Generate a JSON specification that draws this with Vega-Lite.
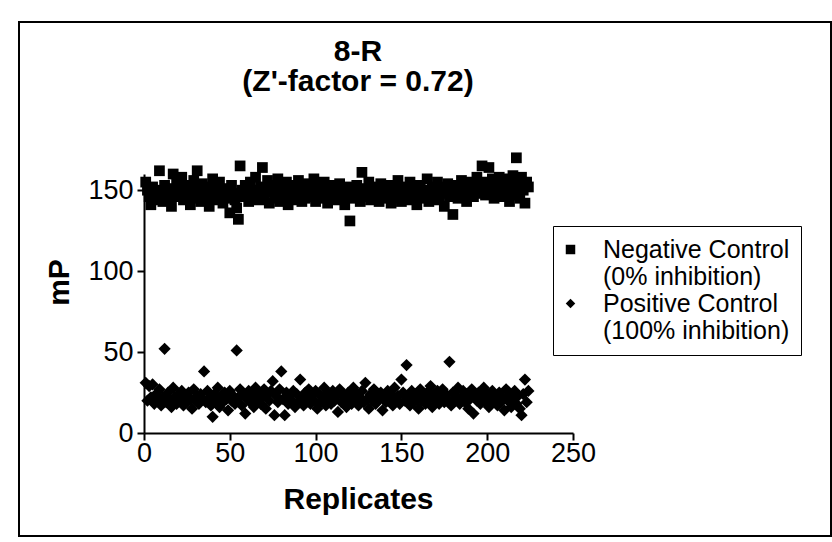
{
  "$schema": "https://vega.github.io/schema/vega-lite/v6.json",
  "width": 812,
  "height": 514,
  "autosize": {"type": "none"},
  "padding": {"left": 19, "top": 22, "right": 1, "bottom": 6},
  "background": "white",
  "config": {
    "view": {"stroke": "black", "strokeWidth": 2},
    "font": "Liberation Sans"
  },
  "title": {
    "text": ["8-R", "(Z'-factor = 0.72)"],
    "font": "Liberation Sans",
    "fontSize": 30,
    "fontWeight": "bold",
    "color": "black",
    "anchor": "middle",
    "frame": "group",
    "baseline": "bottom",
    "lineHeight": 30,
    "dx": -67,
    "offset": -105
  },
  "datasets": {
    "neg": [
      {"rep":1,"mP":155},{"rep":2,"mP":150},{"rep":3,"mP":146},{"rep":4,"mP":141},{"rep":5,"mP":152},{"rep":6,"mP":148},{"rep":7,"mP":144},{"rep":8,"mP":150},{"rep":9,"mP":162},{"rep":10,"mP":147},
      {"rep":11,"mP":143},{"rep":12,"mP":153},{"rep":13,"mP":149},{"rep":14,"mP":145},{"rep":15,"mP":151},{"rep":16,"mP":140},{"rep":17,"mP":160},{"rep":18,"mP":148},{"rep":19,"mP":155},{"rep":20,"mP":146},
      {"rep":21,"mP":152},{"rep":22,"mP":158},{"rep":23,"mP":144},{"rep":24,"mP":149},{"rep":25,"mP":153},{"rep":26,"mP":147},{"rep":27,"mP":141},{"rep":28,"mP":150},{"rep":29,"mP":156},{"rep":30,"mP":145},
      {"rep":31,"mP":162},{"rep":32,"mP":149},{"rep":33,"mP":143},{"rep":34,"mP":154},{"rep":35,"mP":148},{"rep":36,"mP":151},{"rep":37,"mP":146},{"rep":38,"mP":140},{"rep":39,"mP":152},{"rep":40,"mP":157},
      {"rep":41,"mP":148},{"rep":42,"mP":144},{"rep":43,"mP":150},{"rep":44,"mP":155},{"rep":45,"mP":146},{"rep":46,"mP":142},{"rep":47,"mP":151},{"rep":48,"mP":149},{"rep":49,"mP":145},{"rep":50,"mP":136},
      {"rep":51,"mP":153},{"rep":52,"mP":148},{"rep":53,"mP":144},{"rep":54,"mP":139},{"rep":55,"mP":132},{"rep":56,"mP":165},{"rep":57,"mP":150},{"rep":58,"mP":146},{"rep":59,"mP":153},{"rep":60,"mP":148},
      {"rep":61,"mP":143},{"rep":62,"mP":155},{"rep":63,"mP":150},{"rep":64,"mP":145},{"rep":65,"mP":158},{"rep":66,"mP":149},{"rep":67,"mP":144},{"rep":68,"mP":152},{"rep":69,"mP":164},{"rep":70,"mP":147},
      {"rep":71,"mP":151},{"rep":72,"mP":156},{"rep":73,"mP":142},{"rep":74,"mP":149},{"rep":75,"mP":153},{"rep":76,"mP":145},{"rep":77,"mP":150},{"rep":78,"mP":157},{"rep":79,"mP":143},{"rep":80,"mP":148},
      {"rep":81,"mP":152},{"rep":82,"mP":146},{"rep":83,"mP":155},{"rep":84,"mP":141},{"rep":85,"mP":149},{"rep":86,"mP":153},{"rep":87,"mP":147},{"rep":88,"mP":144},{"rep":89,"mP":151},{"rep":90,"mP":156},
      {"rep":91,"mP":148},{"rep":92,"mP":143},{"rep":93,"mP":150},{"rep":94,"mP":145},{"rep":95,"mP":154},{"rep":96,"mP":149},{"rep":97,"mP":146},{"rep":98,"mP":152},{"rep":99,"mP":157},{"rep":100,"mP":143},
      {"rep":101,"mP":148},{"rep":102,"mP":151},{"rep":103,"mP":145},{"rep":104,"mP":150},{"rep":105,"mP":155},{"rep":106,"mP":147},{"rep":107,"mP":142},{"rep":108,"mP":149},{"rep":109,"mP":153},{"rep":110,"mP":146},
      {"rep":111,"mP":151},{"rep":112,"mP":144},{"rep":113,"mP":148},{"rep":114,"mP":154},{"rep":115,"mP":150},{"rep":116,"mP":145},{"rep":117,"mP":141},{"rep":118,"mP":149},{"rep":119,"mP":152},{"rep":120,"mP":131},
      {"rep":121,"mP":147},{"rep":122,"mP":150},{"rep":123,"mP":145},{"rep":124,"mP":153},{"rep":125,"mP":148},{"rep":126,"mP":143},{"rep":127,"mP":161},{"rep":128,"mP":149},{"rep":129,"mP":146},{"rep":130,"mP":151},
      {"rep":131,"mP":155},{"rep":132,"mP":144},{"rep":133,"mP":148},{"rep":134,"mP":152},{"rep":135,"mP":146},{"rep":136,"mP":150},{"rep":137,"mP":143},{"rep":138,"mP":154},{"rep":139,"mP":149},{"rep":140,"mP":145},
      {"rep":141,"mP":151},{"rep":142,"mP":147},{"rep":143,"mP":153},{"rep":144,"mP":142},{"rep":145,"mP":148},{"rep":146,"mP":150},{"rep":147,"mP":145},{"rep":148,"mP":156},{"rep":149,"mP":149},{"rep":150,"mP":143},
      {"rep":151,"mP":152},{"rep":152,"mP":147},{"rep":153,"mP":150},{"rep":154,"mP":144},{"rep":155,"mP":155},{"rep":156,"mP":148},{"rep":157,"mP":146},{"rep":158,"mP":151},{"rep":159,"mP":141},{"rep":160,"mP":149},
      {"rep":161,"mP":153},{"rep":162,"mP":145},{"rep":163,"mP":150},{"rep":164,"mP":147},{"rep":165,"mP":157},{"rep":166,"mP":143},{"rep":167,"mP":149},{"rep":168,"mP":152},{"rep":169,"mP":146},{"rep":170,"mP":150},
      {"rep":171,"mP":155},{"rep":172,"mP":144},{"rep":173,"mP":148},{"rep":174,"mP":152},{"rep":175,"mP":140},{"rep":176,"mP":149},{"rep":177,"mP":154},{"rep":178,"mP":146},{"rep":179,"mP":151},{"rep":180,"mP":135},
      {"rep":181,"mP":148},{"rep":182,"mP":153},{"rep":183,"mP":145},{"rep":184,"mP":150},{"rep":185,"mP":156},{"rep":186,"mP":147},{"rep":187,"mP":152},{"rep":188,"mP":143},{"rep":189,"mP":149},{"rep":190,"mP":155},
      {"rep":191,"mP":151},{"rep":192,"mP":146},{"rep":193,"mP":153},{"rep":194,"mP":158},{"rep":195,"mP":148},{"rep":196,"mP":150},{"rep":197,"mP":165},{"rep":198,"mP":152},{"rep":199,"mP":147},{"rep":200,"mP":155},
      {"rep":201,"mP":164},{"rep":202,"mP":150},{"rep":203,"mP":157},{"rep":204,"mP":145},{"rep":205,"mP":153},{"rep":206,"mP":149},{"rep":207,"mP":158},{"rep":208,"mP":146},{"rep":209,"mP":152},{"rep":210,"mP":155},
      {"rep":211,"mP":148},{"rep":212,"mP":157},{"rep":213,"mP":143},{"rep":214,"mP":151},{"rep":215,"mP":159},{"rep":216,"mP":147},{"rep":217,"mP":170},{"rep":218,"mP":153},{"rep":219,"mP":145},{"rep":220,"mP":158},
      {"rep":221,"mP":150},{"rep":222,"mP":142},{"rep":223,"mP":155},{"rep":224,"mP":152}
    ],
    "pos": [
      {"rep":1,"mP":31},{"rep":2,"mP":20},{"rep":3,"mP":29},{"rep":4,"mP":22},{"rep":5,"mP":30},{"rep":6,"mP":18},{"rep":7,"mP":24},{"rep":8,"mP":20},{"rep":9,"mP":27},{"rep":10,"mP":17},
      {"rep":11,"mP":22},{"rep":12,"mP":52},{"rep":13,"mP":19},{"rep":14,"mP":25},{"rep":15,"mP":21},{"rep":16,"mP":16},{"rep":17,"mP":28},{"rep":18,"mP":22},{"rep":19,"mP":18},{"rep":20,"mP":24},
      {"rep":21,"mP":20},{"rep":22,"mP":26},{"rep":23,"mP":17},{"rep":24,"mP":23},{"rep":25,"mP":19},{"rep":26,"mP":25},{"rep":27,"mP":21},{"rep":28,"mP":15},{"rep":29,"mP":27},{"rep":30,"mP":20},
      {"rep":31,"mP":23},{"rep":32,"mP":18},{"rep":33,"mP":24},{"rep":34,"mP":21},{"rep":35,"mP":38},{"rep":36,"mP":19},{"rep":37,"mP":26},{"rep":38,"mP":22},{"rep":39,"mP":17},{"rep":40,"mP":10},
      {"rep":41,"mP":24},{"rep":42,"mP":20},{"rep":43,"mP":28},{"rep":44,"mP":16},{"rep":45,"mP":23},{"rep":46,"mP":19},{"rep":47,"mP":25},{"rep":48,"mP":21},{"rep":49,"mP":14},{"rep":50,"mP":26},
      {"rep":51,"mP":20},{"rep":52,"mP":23},{"rep":53,"mP":18},{"rep":54,"mP":51},{"rep":55,"mP":22},{"rep":56,"mP":27},{"rep":57,"mP":17},{"rep":58,"mP":24},{"rep":59,"mP":12},{"rep":60,"mP":21},
      {"rep":61,"mP":26},{"rep":62,"mP":19},{"rep":63,"mP":23},{"rep":64,"mP":16},{"rep":65,"mP":28},{"rep":66,"mP":20},{"rep":67,"mP":25},{"rep":68,"mP":18},{"rep":69,"mP":22},{"rep":70,"mP":27},
      {"rep":71,"mP":15},{"rep":72,"mP":24},{"rep":73,"mP":20},{"rep":74,"mP":26},{"rep":75,"mP":32},{"rep":76,"mP":11},{"rep":77,"mP":23},{"rep":78,"mP":19},{"rep":79,"mP":27},{"rep":80,"mP":38},
      {"rep":81,"mP":21},{"rep":82,"mP":11},{"rep":83,"mP":25},{"rep":84,"mP":18},{"rep":85,"mP":23},{"rep":86,"mP":20},{"rep":87,"mP":26},{"rep":88,"mP":16},{"rep":89,"mP":24},{"rep":90,"mP":19},
      {"rep":91,"mP":33},{"rep":92,"mP":22},{"rep":93,"mP":17},{"rep":94,"mP":25},{"rep":95,"mP":21},{"rep":96,"mP":27},{"rep":97,"mP":18},{"rep":98,"mP":23},{"rep":99,"mP":20},{"rep":100,"mP":26},
      {"rep":101,"mP":15},{"rep":102,"mP":24},{"rep":103,"mP":19},{"rep":104,"mP":22},{"rep":105,"mP":28},{"rep":106,"mP":17},{"rep":107,"mP":25},{"rep":108,"mP":21},{"rep":109,"mP":18},{"rep":110,"mP":26},
      {"rep":111,"mP":20},{"rep":112,"mP":23},{"rep":113,"mP":13},{"rep":114,"mP":27},{"rep":115,"mP":19},{"rep":116,"mP":24},{"rep":117,"mP":21},{"rep":118,"mP":16},{"rep":119,"mP":25},{"rep":120,"mP":22},
      {"rep":121,"mP":18},{"rep":122,"mP":28},{"rep":123,"mP":20},{"rep":124,"mP":24},{"rep":125,"mP":17},{"rep":126,"mP":22},{"rep":127,"mP":26},{"rep":128,"mP":19},{"rep":129,"mP":31},{"rep":130,"mP":21},
      {"rep":131,"mP":15},{"rep":132,"mP":24},{"rep":133,"mP":20},{"rep":134,"mP":27},{"rep":135,"mP":18},{"rep":136,"mP":23},{"rep":137,"mP":21},{"rep":138,"mP":25},{"rep":139,"mP":14},{"rep":140,"mP":22},
      {"rep":141,"mP":19},{"rep":142,"mP":26},{"rep":143,"mP":20},{"rep":144,"mP":24},{"rep":145,"mP":17},{"rep":146,"mP":28},{"rep":147,"mP":21},{"rep":148,"mP":23},{"rep":149,"mP":18},{"rep":150,"mP":33},
      {"rep":151,"mP":25},{"rep":152,"mP":20},{"rep":153,"mP":42},{"rep":154,"mP":22},{"rep":155,"mP":17},{"rep":156,"mP":26},{"rep":157,"mP":19},{"rep":158,"mP":24},{"rep":159,"mP":21},{"rep":160,"mP":15},
      {"rep":161,"mP":27},{"rep":162,"mP":20},{"rep":163,"mP":23},{"rep":164,"mP":18},{"rep":165,"mP":25},{"rep":166,"mP":21},{"rep":167,"mP":29},{"rep":168,"mP":16},{"rep":169,"mP":24},{"rep":170,"mP":20},
      {"rep":171,"mP":26},{"rep":172,"mP":18},{"rep":173,"mP":22},{"rep":174,"mP":27},{"rep":175,"mP":19},{"rep":176,"mP":24},{"rep":177,"mP":21},{"rep":178,"mP":44},{"rep":179,"mP":17},{"rep":180,"mP":25},
      {"rep":181,"mP":20},{"rep":182,"mP":23},{"rep":183,"mP":28},{"rep":184,"mP":18},{"rep":185,"mP":22},{"rep":186,"mP":26},{"rep":187,"mP":19},{"rep":188,"mP":24},{"rep":189,"mP":15},{"rep":190,"mP":21},
      {"rep":191,"mP":27},{"rep":192,"mP":12},{"rep":193,"mP":23},{"rep":194,"mP":20},{"rep":195,"mP":25},{"rep":196,"mP":18},{"rep":197,"mP":22},{"rep":198,"mP":28},{"rep":199,"mP":19},{"rep":200,"mP":24},
      {"rep":201,"mP":16},{"rep":202,"mP":21},{"rep":203,"mP":26},{"rep":204,"mP":20},{"rep":205,"mP":23},{"rep":206,"mP":17},{"rep":207,"mP":25},{"rep":208,"mP":19},{"rep":209,"mP":22},{"rep":210,"mP":14},
      {"rep":211,"mP":27},{"rep":212,"mP":20},{"rep":213,"mP":24},{"rep":214,"mP":16},{"rep":215,"mP":21},{"rep":216,"mP":26},{"rep":217,"mP":18},{"rep":218,"mP":23},{"rep":219,"mP":15},{"rep":220,"mP":11},
      {"rep":221,"mP":24},{"rep":222,"mP":33},{"rep":223,"mP":19},{"rep":224,"mP":26}
    ]
  },
  "encoding": {
    "x": {
      "field": "rep",
      "type": "quantitative",
      "scale": {"domain": [0, 250], "range": [125, 554], "nice": false},
      "axis": {
        "title": "Replicates",
        "values": [0, 50, 100, 150, 200, 250],
        "grid": false,
        "offset": -103,
        "domainColor": "black",
        "domainWidth": 2,
        "tickColor": "black",
        "tickWidth": 2,
        "tickSize": 7,
        "labelFont": "Liberation Sans",
        "labelFontSize": 27,
        "labelColor": "black",
        "labelPadding": 0,
        "labelFlush": false,
        "labelOverlap": false,
        "titleFont": "Liberation Sans",
        "titleFontSize": 30,
        "titleFontWeight": "bold",
        "titleColor": "black",
        "titleX": 339,
        "titleY": 75,
        "titleAlign": "center",
        "titleBaseline": "alphabetic"
      }
    },
    "y": {
      "field": "mP",
      "type": "quantitative",
      "scale": {"domain": [0, 160], "range": [411, 152], "nice": false, "zero": true},
      "axis": {
        "title": "mP",
        "values": [0, 50, 100, 150],
        "grid": false,
        "offset": -125,
        "domainColor": "black",
        "domainWidth": 2,
        "tickColor": "black",
        "tickWidth": 2,
        "tickSize": 7,
        "labelFont": "Liberation Sans",
        "labelFontSize": 27,
        "labelColor": "black",
        "labelPadding": 4,
        "labelFlush": false,
        "labelOverlap": false,
        "titleFont": "Liberation Sans",
        "titleFontSize": 30,
        "titleFontWeight": "bold",
        "titleColor": "black",
        "titleAngle": -90,
        "titleX": -76,
        "titleY": 260,
        "titleAlign": "center",
        "titleBaseline": "alphabetic"
      }
    },
    "shape": {
      "type": "nominal",
      "scale": {"domain": ["Negative Control", "Positive Control"], "range": ["square", "diamond"]},
      "legend": {
        "orient": "none",
        "legendX": 534,
        "legendY": 204,
        "title": null,
        "strokeColor": "black",
        "fillColor": "white",
        "padding": 11,
        "labelFont": "Liberation Sans",
        "labelFontSize": 25,
        "labelColor": "black",
        "labelLimit": 400,
        "labelOffset": 20,
        "labelBaseline": "middle",
        "rowPadding": 1,
        "symbolSize": 90,
        "symbolOffset": -6,
        "symbolFillColor": "black",
        "symbolStrokeColor": "black",
        "symbolStrokeWidth": 0,
        "labelExpr": "datum.label == 'Negative Control' ? ['Negative Control', '(0% inhibition)'] : ['Positive Control', '(100% inhibition)']",
        "encode": {
          "legend": {"update": {"strokeWidth": {"value": 1.5}}},
          "labels": {"update": {"dy": {"value": 12}, "lineHeight": {"value": 24}}}
        }
      }
    }
  },
  "layer": [
    {
      "data": {"name": "neg"},
      "mark": {"type": "point", "filled": true, "color": "black", "opacity": 1, "size": 115, "clip": false},
      "encoding": {"shape": {"datum": "Negative Control"}}
    },
    {
      "data": {"name": "pos"},
      "mark": {"type": "point", "filled": true, "color": "black", "opacity": 1, "size": 150, "clip": false},
      "encoding": {"shape": {"datum": "Positive Control"}}
    }
  ]
}
